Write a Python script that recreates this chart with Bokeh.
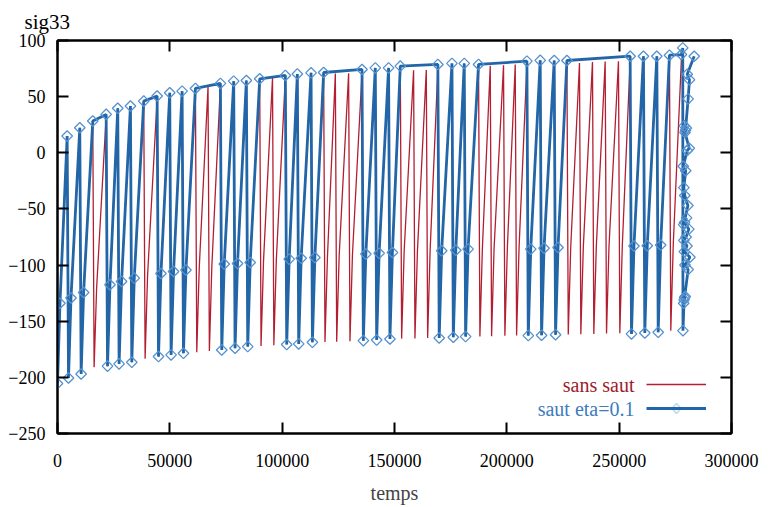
import numpy as np
from bokeh.plotting import figure
from bokeh.models import (Range1d, FixedTicker, LinearAxis, Label, Legend,
                          LegendItem, BasicTickFormatter, ColumnDataSource,
                          CustomLabelingPolicy, PolyAnnotation)
from bokeh.embed import file_html
from bokeh.resources import INLINE

# ---------------- data ----------------
# one entry per loading cycle (cycles 1..49)
cycle_min_t = [0, 4900, 10520, 16300, 22260, 27420, 33070, 38990, 44950, 50560,
               56070, 61990, 67600, 73110, 79030, 84670, 90600, 96300, 102020, 107360,
               113460, 119060, 124270, 130180, 136140, 142060, 147970, 153180, 159100, 164750,
               169900, 176180, 181650, 188010, 193220, 199130, 204340, 209540, 215460, 221690,
               227340, 232940, 238720, 244370, 250290, 255490, 261410, 267370, 272980]
cycle_mid_t = [1100, 6000, 11620, 17400, 23360, 28520, 34170, 40090, 46050, 51660,
               57170, 63090, 68700, 74210, 80130, 85770, 91700, 97400, 103120, 108460,
               114560, 120160, 125370, 131280, 137240, 143160, 149070, 154280, 160200, 165850,
               171000, 177280, 182750, 189110, 194320, 200230, 205440, 210640, 216560, 222790,
               228440, 234040, 239820, 245470, 251390, 256590, 262510, 268470, 274080]
cycle_peak_t = [4300, 9920, 15700, 21660, 26820, 32470, 38390, 44350, 49960, 55470,
                61390, 67000, 72510, 78430, 84070, 90000, 95700, 101420, 106760, 112860,
                118460, 123670, 129580, 135540, 141460, 147370, 152580, 158500, 164150, 169300,
                175580, 181050, 187410, 192620, 198530, 203740, 208940, 214860, 221090, 226740,
                232340, 238120, 243770, 249690, 254890, 260810, 266770, 272380, 277700]
cycle_min_y = [-205.5, -200.5, -197.0, -191.0, -190.0, -188.0, -186.6, -183.5, -181.5, -180.0,
               -178.6, -177.7, -176.5, -175.6, -174.1, -172.6, -172.0, -171.5, -170.8, -170.2,
               -168.8, -168.5, -168.2, -167.8, -167.3, -166.8, -165.8, -165.5, -165.3, -165.0,
               -164.9, -164.3, -163.7, -163.6, -163.3, -163.0, -162.8, -162.8, -162.5, -162.0,
               -161.8, -161.5, -161.3, -161.0, -160.8, -161.3, -160.5, -159.9, -158.4]
cycle_mid_y = [-134.0, -129.3, -124.4, -121.0, -117.5, -114.6, -111.6, -109.5, -107.5, -105.7,
               -104.4, -102.5, -101.0, -99.1, -98.6, -97.7, -96.5, -95.5, -94.7, -94.0,
               -93.2, -92.5, -91.8, -91.0, -90.2, -89.5, -88.8, -88.3, -87.8, -87.5,
               -87.3, -86.8, -85.8, -85.6, -85.3, -85.0, -84.8, -85.8, -85.0, -84.4,
               -84.2, -84.0, -83.8, -83.5, -83.2, -83.0, -82.8, -82.2, -81.5]
cycle_peak_y = [14.9, 22.3, 28.3, 33.0, 39.6, 41.6, 46.0, 48.5, 53.4, 54.9,
                57.3, 58.8, 60.5, 63.8, 64.4, 65.9, 66.5, 67.8, 70.2, 71.2,
                71.5, 70.5, 70.8, 71.5, 75.6, 75.6, 77.2, 73.5, 73.8, 75.0,
                79.6, 79.6, 78.7, 77.5, 78.0, 78.6, 79.0, 82.3, 82.2, 82.2,
                80.0, 80.8, 81.2, 81.6, 82.5, 86.0, 86.0, 86.9, 83.5]

# "saut" run: cycles actually computed, and the cycles it jumps to (landing value)
saut_computed = [1, 2, 3, 5, 6, 7, 9, 10, 11, 14, 15, 16, 19, 20, 21,
                 25, 26, 27, 31, 32, 33, 38, 39, 40, 46, 47, 48]
saut_landing = [4, 8, 13, 18, 24, 30, 37, 45, 49]
saut_landing_y = [34.2, 50.5, 61.8, 68.9, 74.2, 78.7, 81.6, 86.0, 87.5]
# last, non-converging cycle of the "saut" run
saut_end_t = [278300, 278400, 278900, 279400, 278700, 279100, 280700, 279300, 281500, 279000,
              280200, 278800, 279800, 281000, 279100, 280000, 278700, 280600, 279200, 278800,
              279600, 278500, 280300, 281200, 279300, 279900, 279000, 279500, 280700, 281300,
              280300, 283400]
saut_end_y = [93.4, -158.4, -131.0, -128.0, -134.0, -129.0, -104.0, -100.0, -93.0, -88.0,
              -83.0, -78.0, -75.0, -68.0, -62.0, -58.0, -64.0, -47.0, -38.0, -31.0,
              -16.0, -12.0, 2.0, 4.0, 18.0, 22.0, 24.0, 20.0, 48.0, 65.0,
              70.0, 86.0]

x_ticks = [0, 50000, 100000, 150000, 200000, 250000, 300000]
y_ticks = [-250, -200, -150, -100, -50, 0, 50, 100]
series_names = ["sans saut", "saut eta=0.1"]
y_title = "sig33"
x_title = "temps"

# ---------------- build the polylines ----------------
red_t, red_y = [], []
for k in range(len(cycle_peak_t)):
    red_t += [cycle_min_t[k], cycle_mid_t[k], cycle_peak_t[k]]
    red_y += [cycle_min_y[k], cycle_mid_y[k], cycle_peak_y[k]]

blue_t, blue_y = [], []
for k in range(1, len(cycle_peak_t) + 1):
    i = k - 1
    if k in saut_landing:
        blue_t.append(cycle_peak_t[i])
        blue_y.append(saut_landing_y[saut_landing.index(k)])
    if k in saut_computed:
        blue_t += [cycle_min_t[i], cycle_mid_t[i], cycle_peak_t[i]]
        blue_y += [cycle_min_y[i], cycle_mid_y[i], cycle_peak_y[i]]
blue_t += saut_end_t
blue_y += saut_end_y

red_src = ColumnDataSource(dict(t=red_t, y=red_y))
blue_src = ColumnDataSource(dict(t=blue_t, y=blue_y))

# ---------------- styling ----------------
SERIF = "Liberation Serif"
RED = "#b31e30"
BLUE = "#2366a8"
BLUE_MK = "#5592cf"

p = figure(width=773, height=507, output_backend="svg", toolbar_location=None,
           x_range=Range1d(0, 300000), y_range=Range1d(-250, 100),
           min_border_left=57, min_border_right=42, min_border_top=40,
           min_border_bottom=74)
p.xgrid.visible = False
p.ygrid.visible = False
p.outline_line_color = "black"
p.outline_line_width = 2
p.background_fill_color = "white"
p.border_fill_color = "white"

# y-axis name, written horizontally above the axis (gnuplot style)
p.title.text = y_title
p.title.align = "left"
p.title.offset = -33
p.title.standoff = 14
p.title.text_font = SERIF
p.title.text_font_size = "21px"
p.title.text_font_style = "normal"
p.title.text_color = "black"

no_labels = CustomLabelingPolicy(code="")


def style_axis(ax, ticks, show_labels):
    ax.ticker = FixedTicker(ticks=ticks)
    ax.major_tick_in = 11
    ax.major_tick_out = 0
    ax.major_tick_line_width = 2
    ax.major_tick_line_color = "black"
    ax.minor_tick_line_color = None
    ax.axis_line_width = 2
    ax.axis_line_color = "black"
    ax.formatter = BasicTickFormatter(use_scientific=False)
    if show_labels:
        ax.major_label_text_font = SERIF
        ax.major_label_text_font_size = "18px"
        ax.major_label_text_color = "black"
    else:
        ax.major_label_policy = no_labels
        ax.major_label_text_font_size = "0px"
        ax.major_label_standoff = 0


xa = p.xaxis[0]
style_axis(xa, x_ticks, True)
xa.major_label_standoff = 20
xa.axis_label = x_title
xa.axis_label_text_font = SERIF
xa.axis_label_text_font_size = "20px"
xa.axis_label_text_font_style = "normal"
xa.axis_label_standoff = 12

ya = p.yaxis[0]
style_axis(ya, y_ticks, True)
ya.major_label_standoff = 12

top = LinearAxis()
style_axis(top, x_ticks, False)
p.add_layout(top, "above")
right = LinearAxis()
style_axis(right, y_ticks, False)
p.add_layout(right, "right")

# ---------------- series ----------------
red_r = p.line("t", "y", source=red_src, line_color=RED, line_width=1.3)
blue_r = p.line("t", "y", source=blue_src, line_color=BLUE, line_width=2.8)
blue_m = p.scatter("t", "y", source=blue_src, marker="square", angle=np.pi / 4, size=7.5,
                   fill_color=None, line_color=BLUE_MK, line_width=1.3)

# ---------------- legend (gnuplot style: text left, sample right) ----------------
LEG_X, LEG_Y, ROW_H, SAMPLE_W = 589, 13, 24, 60
legend = Legend(items=[LegendItem(label=" ", renderers=[red_r]),
                       LegendItem(label=" ", renderers=[blue_r])],
                location=(LEG_X, LEG_Y), glyph_width=SAMPLE_W, glyph_height=ROW_H,
                label_height=ROW_H, spacing=0, padding=0, margin=0, label_width=0,
                label_standoff=0, label_text_font_size="1px", border_line_color=None,
                background_fill_alpha=0)
p.add_layout(legend)

# diamond in the middle of the blue sample
cx, cy = LEG_X + SAMPLE_W / 2, LEG_Y + ROW_H / 2
p.add_layout(PolyAnnotation(xs=[cx - 4.5, cx, cx + 4.5, cx], ys=[cy, cy + 5, cy, cy - 5],
                            xs_units="screen", ys_units="screen", level="overlay",
                            fill_color="white", fill_alpha=1.0,
                            line_color="#3f80c2", line_width=1.8))

for j, (txt, col) in enumerate([(series_names[0], "#9e1b2b"), (series_names[1], "#3c7cbd")]):
    p.add_layout(Label(x=LEG_X - 12, y=LEG_Y + ROW_H * (1.5 - j), x_units="screen",
                       y_units="screen", text=txt, text_align="right",
                       text_baseline="middle", text_color=col,
                       text_font=SERIF, text_font_size="20px"))

open("out.html", "w").write(file_html(p, INLINE))
